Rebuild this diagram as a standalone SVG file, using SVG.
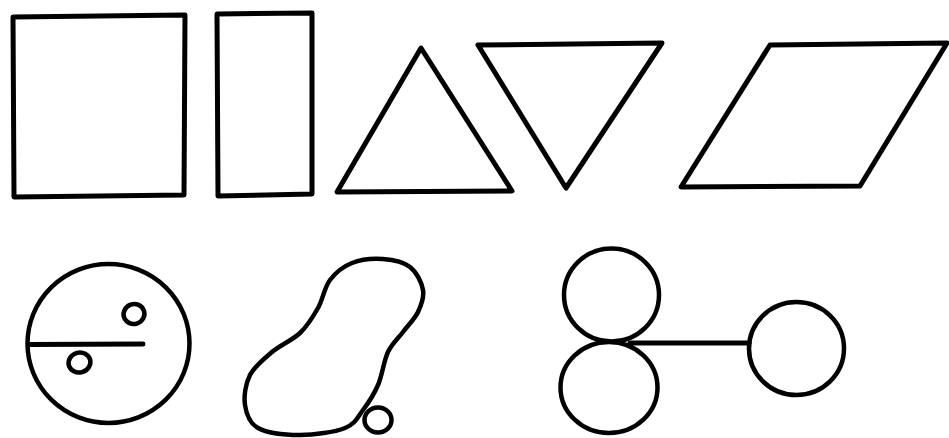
<svg xmlns="http://www.w3.org/2000/svg" width="949" height="438" viewBox="0 0 949 438">
<style>
.s{fill:none;stroke:#000;stroke-width:5;stroke-linejoin:round;stroke-linecap:round}
.c{fill:none;stroke:#000;stroke-width:4.5}
</style>
<rect width="949" height="438" fill="#fff"/>
<g id="square"><path class="s" d="M13,17 L185,15 L184,195 L14,197 Z"/></g>
<g id="rectangle"><path class="s" d="M217,14 L312,13 L312,194 L218,196 Z"/></g>
<g id="triangle-up"><path class="s" d="M421,48 L512,191 L337,192 Z"/></g>
<g id="triangle-down"><path class="s" d="M478,45 L662,43 L566,188 Z"/></g>
<g id="parallelogram"><path class="s" d="M770,45 L947,43 L860,186 L681,187 Z"/></g>
<g id="circle-split">
<ellipse class="c" cx="108.5" cy="343.5" rx="81" ry="79.5"/>
<line class="s" x1="30" y1="344.5" x2="143" y2="344"/>
<ellipse class="c" cx="134" cy="314" rx="10.5" ry="10" transform="rotate(-20 134 314)"/>
<ellipse class="c" cx="79.5" cy="362.5" rx="11" ry="10" transform="rotate(-15 79.5 362.5)"/>
</g>
<g id="blob">
<path class="c" d="M383,259 C392.7,259.7 403.3,261.8 410,267 C416.7,272.2 421.7,282.5 423,290 C424.3,297.5 421.3,305 418,312 C414.7,319 408,325.3 403,332 C398,338.7 392.2,343.2 388,352 C383.8,360.8 382.2,375.3 378,385 C373.8,394.7 368.5,402.8 363,410 C357.5,417.2 355.5,423.8 345,428 C334.5,432.2 314.5,435 300,435 C285.5,435 267.2,433 258,428 C248.8,423 246.3,413.8 245,405 C243.7,396.2 245.5,383.8 250,375 C254.5,366.2 263.7,359 272,352 C280.3,345 292.3,340.3 300,333 C307.7,325.7 313,316.8 318,308 C323,299.2 324.3,287.5 330,280 C335.7,272.5 343.2,266.5 352,263 C360.8,259.5 373.3,258.3 383,259 Z"/>
<ellipse class="c" cx="378" cy="420" rx="13.5" ry="12.5"/>
</g>
<g id="circle-top"><ellipse class="c" cx="611.5" cy="295" rx="47.5" ry="46.5"/></g>
<g id="circle-bottom"><ellipse class="c" cx="609" cy="387.5" rx="48.5" ry="45.5"/></g>
<g id="circle-right"><ellipse class="c" cx="796.5" cy="348.5" rx="47.5" ry="46.5"/></g>
<g id="connectors"><line class="s" x1="630" y1="343" x2="749" y2="343"/></g>
</svg>
